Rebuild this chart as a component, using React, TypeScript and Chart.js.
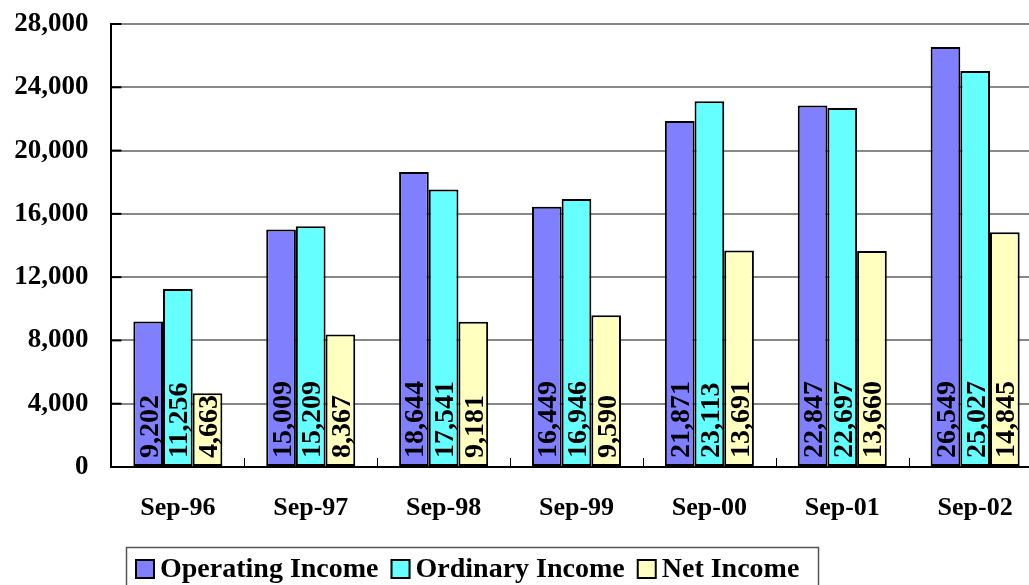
import React, { useEffect, useRef } from "react";
import { Chart, registerables } from "chart.js";

Chart.register(...registerables);

const categories = ["Sep-96", "Sep-97", "Sep-98", "Sep-99", "Sep-00", "Sep-01", "Sep-02"];
const seriesNames = ["Operating Income", "Ordinary Income", "Net Income"];
const operatingIncome = [9202, 15009, 18644, 16449, 21871, 22847, 26549];
const ordinaryIncome = [11256, 15209, 17541, 16946, 23113, 22697, 25027];
const netIncome = [4663, 8367, 9181, 9590, 13691, 13660, 14845];
const seriesColors = ["#8080FF", "#66FFFF", "#FFFFC0"];
const yTicks = [0, 4000, 8000, 12000, 16000, 20000, 24000, 28000];

const FONT = "'Liberation Serif', 'Times New Roman', serif";
const fmt = (v: number) => v.toLocaleString("en-US");

const W = 1050;
const H = 620;

const decorPlugin = {
  id: "decor",
  afterDatasetsDraw(chart: any) {
    const ctx = chart.ctx;
    const area = chart.chartArea;
    const xs = chart.scales.x;
    const ys = chart.scales.y;
    ctx.save();
    ctx.strokeStyle = "#000";
    ctx.lineWidth = 2;
    yTicks.forEach((v) => {
      const y = ys.getPixelForValue(v);
      ctx.beginPath();
      ctx.moveTo(area.left, y);
      ctx.lineTo(area.left + 10, y);
      ctx.stroke();
    });
    ctx.lineWidth = 1;
    for (let i = 1; i < categories.length; i++) {
      const x = Math.round((xs.getPixelForValue(i - 1) + xs.getPixelForValue(i)) / 2) + 0.5;
      ctx.beginPath();
      ctx.moveTo(x, area.bottom);
      ctx.lineTo(x, area.bottom - 9);
      ctx.stroke();
    }
    ctx.fillStyle = "#000";
    ctx.font = `bold 28px ${FONT}`;
    ctx.textAlign = "left";
    ctx.textBaseline = "alphabetic";
    chart.data.datasets.forEach((ds: any, di: number) => {
      const meta = chart.getDatasetMeta(di);
      meta.data.forEach((bar: any, i: number) => {
        const base = ys.getPixelForValue(0);
        ctx.save();
        ctx.translate(bar.x, base - 9);
        ctx.rotate(-Math.PI / 2);
        ctx.fillText(fmt(ds.data[i]), 0, 9.5);
        ctx.restore();
      });
    });
    ctx.restore();
  },
  afterDraw(chart: any) {
    const ctx = chart.ctx;
    ctx.save();
    ctx.strokeStyle = "#555";
    ctx.lineWidth = 1.5;
    ctx.strokeRect(126.5, 547.5, 692, 60);
    ctx.font = `bold 28px ${FONT}`;
    ctx.textBaseline = "middle";
    ctx.textAlign = "left";
    let x = 135;
    const y = 559;
    chart.data.datasets.forEach((ds: any) => {
      ctx.fillStyle = ds.backgroundColor;
      ctx.fillRect(x, y, 20, 20);
      ctx.strokeStyle = "#000";
      ctx.lineWidth = 2;
      ctx.strokeRect(x + 1, y + 1, 18, 18);
      ctx.fillStyle = "#000";
      ctx.fillText(ds.label, x + 25, y + 11);
      const tw = ctx.measureText(ds.label).width;
      x = x + 25 + tw + 12;
    });
    ctx.restore();
  },
};

export default function App() {
  const ref = useRef<HTMLCanvasElement | null>(null);
  useEffect(() => {
    if (!ref.current) return;
    const chart = new Chart(ref.current, {
      type: "bar",
      data: {
        labels: categories,
        datasets: [operatingIncome, ordinaryIncome, netIncome].map((d, i) => ({
          label: seriesNames[i],
          data: d,
          backgroundColor: seriesColors[i],
          borderColor: "#000",
          borderWidth: 2,
          borderSkipped: false,
          categoryPercentage: 0.67,
          barPercentage: 1.0,
        })),
      },
      options: {
        animation: false,
        responsive: false,
        devicePixelRatio: 1,
        layout: { padding: { left: 0, right: W - 1041.6, top: 24, bottom: H - 467 - 60 } },
        plugins: { legend: { display: false }, tooltip: { enabled: false } },
        scales: {
          x: {
            grid: { display: false, drawTicks: false },
            border: { display: true, color: "#000", width: 2 },
            ticks: { color: "#000", font: { family: FONT, size: 26, weight: "bold" }, padding: 26, maxRotation: 0 },
            afterFit: (s: any) => { s.height = 60; s.paddingLeft = 0; s.paddingRight = 0; },
          },
          y: {
            min: 0,
            max: 28000,
            afterBuildTicks: (s: any) => { s.ticks = yTicks.map((v) => ({ value: v })); },
            grid: {
              drawTicks: false,
              lineWidth: 2,
              color: (c: any) => (c.tick && c.tick.value === 0 ? "#000" : "#888"),
            },
            border: { display: true, color: "#000", width: 2 },
            ticks: {
              color: "#000",
              font: { family: FONT, size: 27, weight: "bold" },
              padding: 23,
              callback: (v: any) => fmt(Number(v)),
            },
            afterFit: (s: any) => { s.width = 111.4; s.paddingTop = 0; s.paddingBottom = 0; },
          },
        },
      },
      plugins: [decorPlugin],
    });
    return () => chart.destroy();
  }, []);
  return (
    <div style={{ position: "fixed", left: 0, top: 0, width: 1029, height: 585, overflow: "hidden", background: "#fff" }}>
      <canvas ref={ref} width={W} height={H} style={{ display: "block" }} />
    </div>
  );
}
